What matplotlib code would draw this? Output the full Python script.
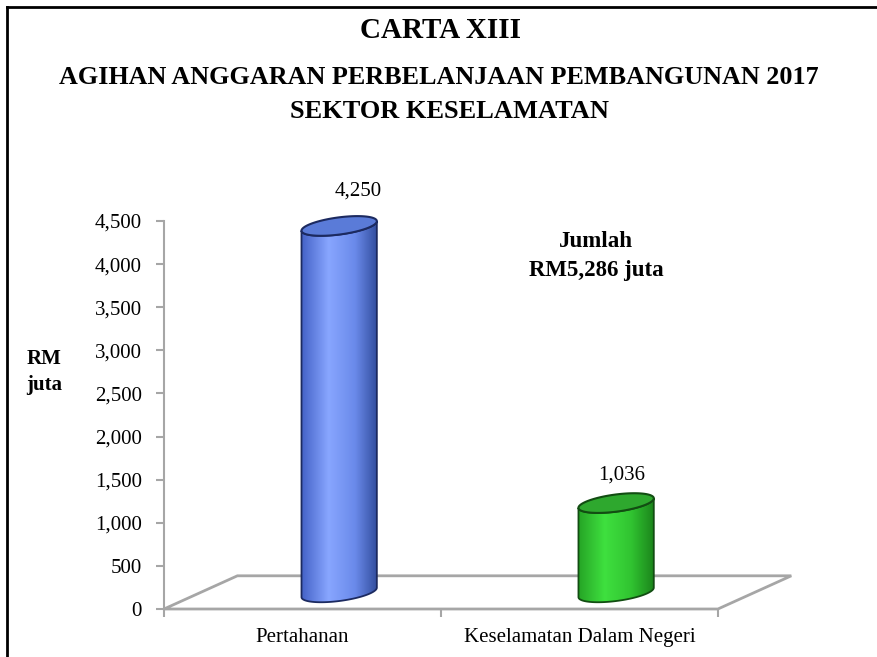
import numpy as np
import matplotlib.pyplot as plt
from matplotlib.patches import Polygon
from matplotlib.colors import LinearSegmentedColormap
from matplotlib.lines import Line2D

plt.rcParams['font.family'] = ['Liberation Serif', 'DejaVu Serif']

# data
categories = ['Pertahanan', 'Keselamatan Dalam Negeri']
values = [4250, 1036]
value_labels = ['4,250', '1,036']
yticks = [0, 500, 1000, 1500, 2000, 2500, 3000, 3500, 4000, 4500]
ytick_labels = ['0', '500', '1,000', '1,500', '2,000', '2,500', '3,000', '3,500', '4,000', '4,500']
total_text = 'Jumlah\nRM5,286 juta'

# colours: left edge, highlight, mid, right edge / top / outline
body_stops = [['#4563c8', '#88a6ff', '#6a8aea', '#314c9c'],
              ['#25a325', '#3fe03f', '#31c431', '#1b851b']]
top_colors = ['#5a7bd8', '#2ea82e']
edge_colors = ['#1c2a60', '#124d12']

# fake 3d floor depth (x in category units, y in value units)
dx = 0.265
dy = 385
rx = 0.136     # cylinder half width
ry = 100       # ellipse half height
sh = 55        # tilt of the ellipse

fig = plt.figure(figsize=(8.78, 6.57), dpi=100)
ax = fig.add_axes([164/878, 48/657, 637/878, 388/657])

# floor
floor = Polygon([[0, 0], [2, 0], [2 + dx, dy], [dx, dy]], closed=True, fill=False,
                edgecolor='#a6a6a6', lw=2, zorder=1, clip_on=False)
ax.add_patch(floor)

t = np.linspace(0, 2*np.pi, 200)
for i, v in enumerate(values):
    cx = i + 0.5 + dx/2
    base = dy/2
    top = base + v
    # lower half arcs (front side)
    tl = np.linspace(np.pi, 2*np.pi, 100)
    bx = cx + rx*np.cos(tl)
    by = base + ry*np.sin(tl) + sh*np.cos(tl)
    ty = top + ry*np.sin(tl) + sh*np.cos(tl)
    body_x = np.concatenate([bx, bx[::-1]])
    body_y = np.concatenate([by, ty[::-1]])
    body = Polygon(np.column_stack([body_x, body_y]), closed=True, facecolor='none',
                   edgecolor=edge_colors[i], lw=1.3, zorder=4, clip_on=False)
    ax.add_patch(body)
    cmap = LinearSegmentedColormap.from_list('c%d' % i, list(zip([0, 0.35, 0.7, 1.0], body_stops[i])))
    grad = np.linspace(0, 1, 256).reshape(1, -1)
    im = ax.imshow(grad, cmap=cmap, aspect='auto', zorder=3, interpolation='bilinear',
                   extent=[cx - rx, cx + rx, base - ry - sh, top + ry + sh])
    im.set_clip_path(body)
    # top face
    ex = cx + rx*np.cos(t)
    ey = top + ry*np.sin(t) + sh*np.cos(t)
    ax.add_patch(Polygon(np.column_stack([ex, ey]), closed=True, facecolor=top_colors[i],
                         edgecolor=edge_colors[i], lw=1.5, zorder=5, clip_on=False))

# value labels
ax.text(0.5 + dx/2 + 0.07, values[0] + dy/2 + 400, value_labels[0], ha='center', va='center', fontsize=15)
ax.text(1.5 + dx/2 + 0.02, values[1] + dy/2 + 330, value_labels[1], ha='center', va='center', fontsize=15)

ax.set_xlim(0, 2.3)
ax.set_ylim(0, 4500)

ax.set_yticks(yticks)
ax.set_yticklabels(ytick_labels, fontsize=15)
ax.set_xticks([0, 1, 2])
ax.set_xticklabels([])
ax.set_xticks([0.5, 1.5], minor=True)
ax.set_xticklabels(categories, minor=True, fontsize=15)
ax.tick_params(axis='x', which='minor', length=0, pad=14)
ax.tick_params(axis='x', which='major', length=6, color='#a6a6a6', width=1.5)
ax.tick_params(axis='y', length=6, color='#a6a6a6', width=1.5, pad=10)
for s in ['top', 'right', 'bottom']:
    ax.spines[s].set_visible(False)
ax.spines['left'].set_color('#a6a6a6')
ax.spines['left'].set_linewidth(1.5)
ax.patch.set_alpha(0)

# titles and notes
fig.text(440/878, 1 - 30/657, 'CARTA XIII', ha='center', va='center', fontsize=21, fontweight='bold')
fig.text(439/878, 1 - 78/657, 'AGIHAN ANGGARAN PERBELANJAAN PEMBANGUNAN 2017', ha='center', va='center',
         fontsize=18.8, fontweight='bold')
fig.text(450/878, 1 - 111/657, 'SEKTOR KESELAMATAN', ha='center', va='center', fontsize=19, fontweight='bold')
fig.text(596/878, 1 - 256/657, total_text, ha='center', va='center', fontsize=16.5, fontweight='bold',
         linespacing=1.45)
fig.text(44/878, 1 - 372/657, 'RM\njuta', ha='center', va='center', fontsize=15, fontweight='bold',
         linespacing=1.35)

# border round the chart
fig.add_artist(Line2D([7/878, 7/878], [0, 1 - 7/657], color='black', lw=2))
fig.add_artist(Line2D([7/878, 1], [1 - 7/657, 1 - 7/657], color='black', lw=2))

fig.savefig('out.png', dpi=100)
